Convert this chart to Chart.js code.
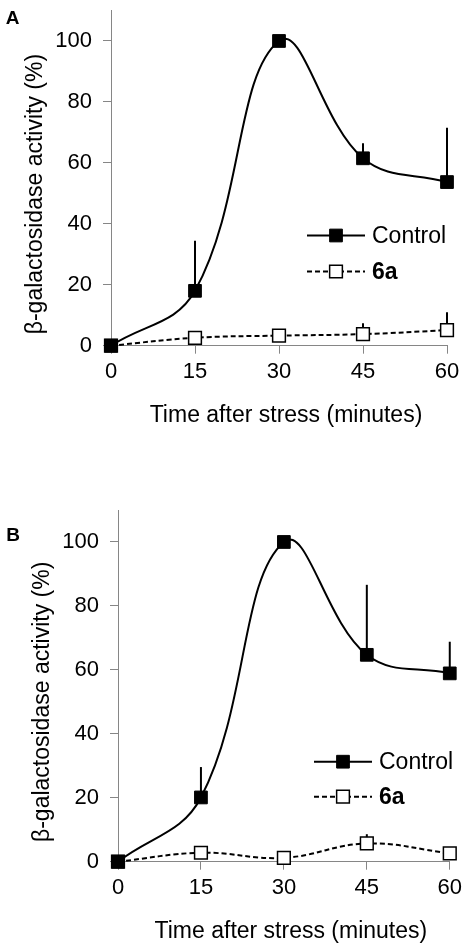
<!DOCTYPE html>
<html>
<head>
<meta charset="utf-8">
<script src="https://cdn.jsdelivr.net/npm/chart.js@4.4.1/dist/chart.umd.min.js"></script>
<style>
  html, body { margin: 0; padding: 0; background: #fff; }
  #wrap { position: relative; width: 467px; height: 950px; }
  canvas { position: absolute; left: 0; }
  #chartA { top: 0; }
  #chartB { top: 480px; }
</style>
</head>
<body>
<div id="wrap">
  <canvas id="chartA" width="467" height="480"></canvas>
  <canvas id="chartB" width="467" height="470"></canvas>
</div>
<script>
// ── DATOS ─────────────────────────────────────────────────────
const TIMES   = [0, 15, 30, 45, 60];
const X_TICKS = [0, 15, 30, 45, 60];
const Y_TICKS = [0, 20, 40, 60, 80, 100];
const SERIES  = ['Control', '6a'];
const X_TITLE = 'Time after stress (minutes)';
const Y_TITLE = 'β-galactosidase activity (%)';

// panel A
const controlA    = [0, 18, 100, 61.5, 53.7];
const controlErrA = [0, 16.4, 0, 4.9, 17.8];
const sixA        = [0, 2.6, 3.3, 3.8, 5.1];
const sixErrA     = [0, 0, 0, 3.6, 5.9];

// panel B
const controlB    = [0, 20.1, 100, 64.7, 58.9];
const controlErrB = [0, 9.5, 0, 21.9, 9.9];
const sixB        = [0, 2.8, 1.2, 5.7, 2.6];
const sixErrB     = [0, 0, 0, 2.9, 0];

const FONT  = 'Liberation Sans, Arial, Helvetica, sans-serif';
const AXIS  = '#868686';
const INK   = '#000';

// ── PLUGINS ───────────────────────────────────────────────────
// barras de error solo hacia arriba, sin remate
const errorBars = {
  id: 'errorBars',
  beforeDatasetsDraw(chart) {
    const { ctx } = chart;
    const ys = chart.scales.y;
    chart.data.datasets.forEach((ds, i) => {
      if (!ds.errUp) return;
      const meta = chart.getDatasetMeta(i);
      ctx.save();
      ctx.strokeStyle = INK;
      ctx.lineWidth = 2;
      meta.data.forEach((pt, j) => {
        const e = ds.errUp[j];
        if (!e) return;
        const top = ys.getPixelForValue(ds.data[j].y + e);
        ctx.beginPath();
        ctx.moveTo(pt.x, pt.y);
        ctx.lineTo(pt.x, top);
        ctx.stroke();
      });
      ctx.restore();
    });
  }
};

// leyenda dentro del área del gráfico
const innerLegend = {
  id: 'innerLegend',
  afterDatasetsDraw(chart, args, opts) {
    const { ctx, chartArea } = chart;
    const x0 = chartArea.left + opts.x;
    const x1 = x0 + opts.lineLen;
    chart.data.datasets.forEach((ds, i) => {
      const y = chartArea.top + opts.rows[i];
      ctx.save();
      ctx.strokeStyle = ds.borderColor;
      ctx.lineWidth = ds.borderWidth;
      ctx.setLineDash(ds.borderDash || []);
      ctx.beginPath();
      ctx.moveTo(x0, y);
      ctx.lineTo(x1, y);
      ctx.stroke();
      ctx.setLineDash([]);
      ctx.fillStyle = ds.pointBackgroundColor;
      ctx.strokeStyle = ds.pointBorderColor;
      ctx.lineWidth = ds.pointBorderWidth;
      Chart.helpers.drawPoint(ctx, {
        pointStyle: ds.pointStyle, radius: ds.pointRadius, rotation: 0, borderWidth: ds.pointBorderWidth
      }, (x0 + x1) / 2, y);
      ctx.fillStyle = INK;
      ctx.font = (i === 1 ? 'bold ' : '') + '23px ' + FONT;
      ctx.textAlign = 'left';
      ctx.textBaseline = 'middle';
      ctx.fillText(ds.label, x1 + opts.gap, y + 1);
      ctx.restore();
    });
  }
};

// títulos de ejes y letra del panel
const panelText = {
  id: 'panelText',
  afterDraw(chart, args, opts) {
    const { ctx, chartArea } = chart;
    ctx.save();
    ctx.fillStyle = INK;
    ctx.textAlign = 'center';
    ctx.textBaseline = 'middle';
    ctx.font = '23px ' + FONT;
    ctx.fillText(X_TITLE, (chartArea.left + chartArea.right) / 2 + 7, chartArea.bottom + 70);
    ctx.save();
    ctx.translate(chartArea.left - 75, (chartArea.top + chartArea.bottom) / 2 + 16);
    ctx.rotate(-Math.PI / 2);
    ctx.fillText(Y_TITLE, 0, 0);
    ctx.restore();
    ctx.font = 'bold 19px ' + FONT;
    ctx.fillText(opts.letter, opts.lx, opts.ly);
    ctx.restore();
  }
};

// ── CONSTRUCCIÓN ──────────────────────────────────────────────
const pts = vals => TIMES.map((t, i) => ({ x: t, y: vals[i] }));

function makeChart(id, ctrl, ctrlErr, six, sixErr, L) {
  return new Chart(document.getElementById(id), {
    type: 'line',
    data: {
      datasets: [
        {
          label: SERIES[0], data: pts(ctrl), errUp: ctrlErr,
          borderColor: INK, borderWidth: 2, tension: 0.4,
          pointStyle: 'rect', pointRadius: 9, pointBackgroundColor: INK,
          pointBorderColor: INK, pointBorderWidth: 1, clip: false
        },
        {
          label: SERIES[1], data: pts(six), errUp: sixErr,
          borderColor: INK, borderWidth: 2, borderDash: [5, 3], tension: 0.4,
          pointStyle: 'rect', pointRadius: 9, pointBackgroundColor: '#fff',
          pointBorderColor: INK, pointBorderWidth: 1.5, clip: false
        }
      ]
    },
    options: {
      responsive: false,
      animation: false,
      layout: { padding: { top: L.top, right: L.right, bottom: 0, left: 0 } },
      plugins: {
        legend: { display: false },
        tooltip: { enabled: false },
        innerLegend: { x: 196, lineLen: 58, gap: 7, rows: L.rows },
        panelText: { letter: L.letter, lx: L.lx, ly: L.ly }
      },
      scales: {
        x: {
          type: 'linear', min: 0, max: 60, bounds: 'data',
          afterBuildTicks: s => { s.ticks = X_TICKS.map(v => ({ value: v })); },
          afterFit: s => { s.height = L.xh; },
          grid: { drawOnChartArea: false, color: AXIS, tickLength: 8 },
          border: { color: AXIS, width: 1 },
          ticks: { color: INK, font: { family: FONT, size: 22 }, padding: 5, maxRotation: 0 }
        },
        y: {
          min: 0, max: 110, bounds: 'data',
          afterBuildTicks: s => { s.ticks = Y_TICKS.map(v => ({ value: v })); },
          afterFit: s => { s.width = L.yw; s.paddingTop = 0; s.paddingBottom = 0; },
          grid: { drawOnChartArea: false, color: AXIS, tickLength: 8 },
          border: { color: AXIS, width: 1 },
          ticks: { color: INK, font: { family: FONT, size: 22 }, padding: 11 }
        }
      }
    },
    plugins: [errorBars, innerLegend, panelText]
  });
}

makeChart('chartA', controlA, controlErrA, sixA, sixErrA,
  { top: 5, right: 20, yw: 111, xh: 134.3, rows: [225, 261], letter: 'A', lx: 12.5, ly: 18.5 });
makeChart('chartB', controlB, controlErrB, sixB, sixErrB,
  { top: 30, right: 17, yw: 118, xh: 88.3, rows: [251.7, 286.7], letter: 'B', lx: 13, ly: 55.5 });
</script>
</body>
</html>
